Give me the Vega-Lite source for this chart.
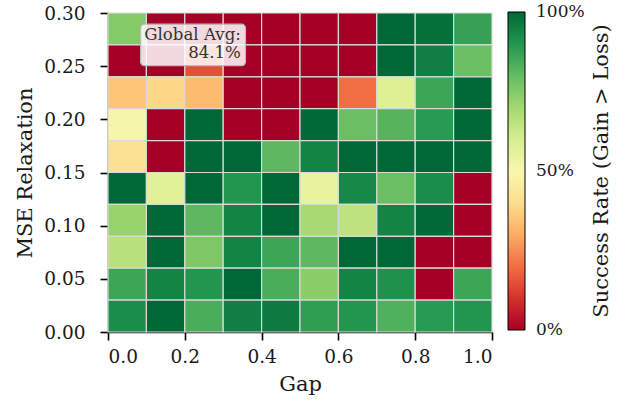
{
  "$schema": "https://vega.github.io/schema/vega-lite/v6.json",
  "width": 384,
  "height": 319,
  "autosize": {"type": "none"},
  "padding": {"left": 108, "top": 13, "right": 137, "bottom": 71},
  "background": "white",
  "config": {
    "view": {"stroke": null},
    "font": "DejaVu Serif",
    "axis": {
      "labelFont": "DejaVu Serif",
      "titleFont": "DejaVu Serif",
      "labelFontSize": 18.5,
      "titleFontSize": 21,
      "titleFontWeight": "normal",
      "labelColor": "#1a1a1a",
      "titleColor": "#1a1a1a",
      "domainColor": "#000000",
      "domainWidth": 1.6,
      "tickColor": "#000000",
      "tickWidth": 1.6,
      "tickSize": 8,
      "grid": false
    },
    "legend": {
      "labelFont": "DejaVu Serif",
      "titleFont": "DejaVu Serif"
    }
  },
  "datasets": {
    "cells": [
      {"g0": 0.0, "g1": 0.1, "m0": 0.27, "m1": 0.30, "rate": 0.75},
      {"g0": 0.1, "g1": 0.2, "m0": 0.27, "m1": 0.30, "rate": 0.0},
      {"g0": 0.2, "g1": 0.3, "m0": 0.27, "m1": 0.30, "rate": 0.0},
      {"g0": 0.3, "g1": 0.4, "m0": 0.27, "m1": 0.30, "rate": 0.0},
      {"g0": 0.4, "g1": 0.5, "m0": 0.27, "m1": 0.30, "rate": 0.0},
      {"g0": 0.5, "g1": 0.6, "m0": 0.27, "m1": 0.30, "rate": 0.0},
      {"g0": 0.6, "g1": 0.7, "m0": 0.27, "m1": 0.30, "rate": 0.0},
      {"g0": 0.7, "g1": 0.8, "m0": 0.27, "m1": 0.30, "rate": 1.0},
      {"g0": 0.8, "g1": 0.9, "m0": 0.27, "m1": 0.30, "rate": 0.98},
      {"g0": 0.9, "g1": 1.0, "m0": 0.27, "m1": 0.30, "rate": 0.87},

      {"g0": 0.0, "g1": 0.1, "m0": 0.24, "m1": 0.27, "rate": 0.0},
      {"g0": 0.1, "g1": 0.2, "m0": 0.24, "m1": 0.27, "rate": 0.0},
      {"g0": 0.2, "g1": 0.3, "m0": 0.24, "m1": 0.27, "rate": 0.15},
      {"g0": 0.3, "g1": 0.4, "m0": 0.24, "m1": 0.27, "rate": 0.0},
      {"g0": 0.4, "g1": 0.5, "m0": 0.24, "m1": 0.27, "rate": 0.0},
      {"g0": 0.5, "g1": 0.6, "m0": 0.24, "m1": 0.27, "rate": 0.0},
      {"g0": 0.6, "g1": 0.7, "m0": 0.24, "m1": 0.27, "rate": 0.0},
      {"g0": 0.7, "g1": 0.8, "m0": 0.24, "m1": 0.27, "rate": 1.0},
      {"g0": 0.8, "g1": 0.9, "m0": 0.24, "m1": 0.27, "rate": 0.95},
      {"g0": 0.9, "g1": 1.0, "m0": 0.24, "m1": 0.27, "rate": 0.79},

      {"g0": 0.0, "g1": 0.1, "m0": 0.21, "m1": 0.24, "rate": 0.35},
      {"g0": 0.1, "g1": 0.2, "m0": 0.21, "m1": 0.24, "rate": 0.39},
      {"g0": 0.2, "g1": 0.3, "m0": 0.21, "m1": 0.24, "rate": 0.33},
      {"g0": 0.3, "g1": 0.4, "m0": 0.21, "m1": 0.24, "rate": 0.0},
      {"g0": 0.4, "g1": 0.5, "m0": 0.21, "m1": 0.24, "rate": 0.0},
      {"g0": 0.5, "g1": 0.6, "m0": 0.21, "m1": 0.24, "rate": 0.0},
      {"g0": 0.6, "g1": 0.7, "m0": 0.21, "m1": 0.24, "rate": 0.2},
      {"g0": 0.7, "g1": 0.8, "m0": 0.21, "m1": 0.24, "rate": 0.58},
      {"g0": 0.8, "g1": 0.9, "m0": 0.21, "m1": 0.24, "rate": 0.86},
      {"g0": 0.9, "g1": 1.0, "m0": 0.21, "m1": 0.24, "rate": 1.0},

      {"g0": 0.0, "g1": 0.1, "m0": 0.18, "m1": 0.21, "rate": 0.51},
      {"g0": 0.1, "g1": 0.2, "m0": 0.18, "m1": 0.21, "rate": 0.0},
      {"g0": 0.2, "g1": 0.3, "m0": 0.18, "m1": 0.21, "rate": 1.0},
      {"g0": 0.3, "g1": 0.4, "m0": 0.18, "m1": 0.21, "rate": 0.0},
      {"g0": 0.4, "g1": 0.5, "m0": 0.18, "m1": 0.21, "rate": 0.0},
      {"g0": 0.5, "g1": 0.6, "m0": 0.18, "m1": 0.21, "rate": 1.0},
      {"g0": 0.6, "g1": 0.7, "m0": 0.18, "m1": 0.21, "rate": 0.79},
      {"g0": 0.7, "g1": 0.8, "m0": 0.18, "m1": 0.21, "rate": 0.82},
      {"g0": 0.8, "g1": 0.9, "m0": 0.18, "m1": 0.21, "rate": 0.89},
      {"g0": 0.9, "g1": 1.0, "m0": 0.18, "m1": 0.21, "rate": 1.0},

      {"g0": 0.0, "g1": 0.1, "m0": 0.15, "m1": 0.18, "rate": 0.42},
      {"g0": 0.1, "g1": 0.2, "m0": 0.15, "m1": 0.18, "rate": 0.0},
      {"g0": 0.2, "g1": 0.3, "m0": 0.15, "m1": 0.18, "rate": 1.0},
      {"g0": 0.3, "g1": 0.4, "m0": 0.15, "m1": 0.18, "rate": 1.0},
      {"g0": 0.4, "g1": 0.5, "m0": 0.15, "m1": 0.18, "rate": 0.81},
      {"g0": 0.5, "g1": 0.6, "m0": 0.15, "m1": 0.18, "rate": 0.94},
      {"g0": 0.6, "g1": 0.7, "m0": 0.15, "m1": 0.18, "rate": 1.0},
      {"g0": 0.7, "g1": 0.8, "m0": 0.15, "m1": 0.18, "rate": 1.0},
      {"g0": 0.8, "g1": 0.9, "m0": 0.15, "m1": 0.18, "rate": 1.0},
      {"g0": 0.9, "g1": 1.0, "m0": 0.15, "m1": 0.18, "rate": 1.0},

      {"g0": 0.0, "g1": 0.1, "m0": 0.12, "m1": 0.15, "rate": 1.0},
      {"g0": 0.1, "g1": 0.2, "m0": 0.12, "m1": 0.15, "rate": 0.57},
      {"g0": 0.2, "g1": 0.3, "m0": 0.12, "m1": 0.15, "rate": 1.0},
      {"g0": 0.3, "g1": 0.4, "m0": 0.12, "m1": 0.15, "rate": 0.9},
      {"g0": 0.4, "g1": 0.5, "m0": 0.12, "m1": 0.15, "rate": 1.0},
      {"g0": 0.5, "g1": 0.6, "m0": 0.12, "m1": 0.15, "rate": 0.55},
      {"g0": 0.6, "g1": 0.7, "m0": 0.12, "m1": 0.15, "rate": 0.93},
      {"g0": 0.7, "g1": 0.8, "m0": 0.12, "m1": 0.15, "rate": 0.79},
      {"g0": 0.8, "g1": 0.9, "m0": 0.12, "m1": 0.15, "rate": 0.92},
      {"g0": 0.9, "g1": 1.0, "m0": 0.12, "m1": 0.15, "rate": 0.0},

      {"g0": 0.0, "g1": 0.1, "m0": 0.09, "m1": 0.12, "rate": 0.72},
      {"g0": 0.1, "g1": 0.2, "m0": 0.09, "m1": 0.12, "rate": 1.0},
      {"g0": 0.2, "g1": 0.3, "m0": 0.09, "m1": 0.12, "rate": 0.81},
      {"g0": 0.3, "g1": 0.4, "m0": 0.09, "m1": 0.12, "rate": 0.94},
      {"g0": 0.4, "g1": 0.5, "m0": 0.09, "m1": 0.12, "rate": 1.0},
      {"g0": 0.5, "g1": 0.6, "m0": 0.09, "m1": 0.12, "rate": 0.69},
      {"g0": 0.6, "g1": 0.7, "m0": 0.09, "m1": 0.12, "rate": 0.65},
      {"g0": 0.7, "g1": 0.8, "m0": 0.09, "m1": 0.12, "rate": 0.94},
      {"g0": 0.8, "g1": 0.9, "m0": 0.09, "m1": 0.12, "rate": 1.0},
      {"g0": 0.9, "g1": 1.0, "m0": 0.09, "m1": 0.12, "rate": 0.0},

      {"g0": 0.0, "g1": 0.1, "m0": 0.06, "m1": 0.09, "rate": 0.66},
      {"g0": 0.1, "g1": 0.2, "m0": 0.06, "m1": 0.09, "rate": 1.0},
      {"g0": 0.2, "g1": 0.3, "m0": 0.06, "m1": 0.09, "rate": 0.76},
      {"g0": 0.3, "g1": 0.4, "m0": 0.06, "m1": 0.09, "rate": 0.94},
      {"g0": 0.4, "g1": 0.5, "m0": 0.06, "m1": 0.09, "rate": 0.86},
      {"g0": 0.5, "g1": 0.6, "m0": 0.06, "m1": 0.09, "rate": 0.81},
      {"g0": 0.6, "g1": 0.7, "m0": 0.06, "m1": 0.09, "rate": 1.0},
      {"g0": 0.7, "g1": 0.8, "m0": 0.06, "m1": 0.09, "rate": 1.0},
      {"g0": 0.8, "g1": 0.9, "m0": 0.06, "m1": 0.09, "rate": 0.0},
      {"g0": 0.9, "g1": 1.0, "m0": 0.06, "m1": 0.09, "rate": 0.0},

      {"g0": 0.0, "g1": 0.1, "m0": 0.03, "m1": 0.06, "rate": 0.86},
      {"g0": 0.1, "g1": 0.2, "m0": 0.03, "m1": 0.06, "rate": 0.94},
      {"g0": 0.2, "g1": 0.3, "m0": 0.03, "m1": 0.06, "rate": 0.9},
      {"g0": 0.3, "g1": 0.4, "m0": 0.03, "m1": 0.06, "rate": 1.0},
      {"g0": 0.4, "g1": 0.5, "m0": 0.03, "m1": 0.06, "rate": 0.84},
      {"g0": 0.5, "g1": 0.6, "m0": 0.03, "m1": 0.06, "rate": 0.74},
      {"g0": 0.6, "g1": 0.7, "m0": 0.03, "m1": 0.06, "rate": 0.94},
      {"g0": 0.7, "g1": 0.8, "m0": 0.03, "m1": 0.06, "rate": 0.91},
      {"g0": 0.8, "g1": 0.9, "m0": 0.03, "m1": 0.06, "rate": 0.0},
      {"g0": 0.9, "g1": 1.0, "m0": 0.03, "m1": 0.06, "rate": 0.86},

      {"g0": 0.0, "g1": 0.1, "m0": 0.0, "m1": 0.03, "rate": 0.92},
      {"g0": 0.1, "g1": 0.2, "m0": 0.0, "m1": 0.03, "rate": 1.0},
      {"g0": 0.2, "g1": 0.3, "m0": 0.0, "m1": 0.03, "rate": 0.84},
      {"g0": 0.3, "g1": 0.4, "m0": 0.0, "m1": 0.03, "rate": 0.95},
      {"g0": 0.4, "g1": 0.5, "m0": 0.0, "m1": 0.03, "rate": 0.96},
      {"g0": 0.5, "g1": 0.6, "m0": 0.0, "m1": 0.03, "rate": 0.88},
      {"g0": 0.6, "g1": 0.7, "m0": 0.0, "m1": 0.03, "rate": 0.9},
      {"g0": 0.7, "g1": 0.8, "m0": 0.0, "m1": 0.03, "rate": 0.83},
      {"g0": 0.8, "g1": 0.9, "m0": 0.0, "m1": 0.03, "rate": 0.89},
      {"g0": 0.9, "g1": 1.0, "m0": 0.0, "m1": 0.03, "rate": 0.9}
    ],
    "note": [
      {"g0": 0.085, "g1": 0.358, "m0": 0.2505, "m1": 0.2895, "gx": 0.346, "my": 0.2865, "label": ["Global Avg:", "84.1%"]}
    ]
  },
  "layer": [
    {
      "data": {"name": "cells"},
      "mark": {"type": "rect", "stroke": "#d9d9d9", "strokeWidth": 1.2},
      "encoding": {
        "x": {
          "field": "g0", "type": "quantitative",
          "scale": {"domain": [0, 1], "nice": false, "zero": false},
          "axis": {"title": "Gap", "values": [0, 0.2, 0.4, 0.6, 0.8, 1.0], "format": ".1f", "labelPadding": 7, "titlePadding": 8}
        },
        "x2": {"field": "g1"},
        "y": {
          "field": "m0", "type": "quantitative",
          "scale": {"domain": [0, 0.3], "nice": false, "zero": false},
          "axis": {"title": "MSE Relaxation", "values": [0, 0.05, 0.1, 0.15, 0.2, 0.25, 0.3], "format": ".2f", "labelPadding": 15, "titlePadding": 8}
        },
        "y2": {"field": "m1"},
        "color": {
          "field": "rate", "type": "quantitative",
          "scale": {"scheme": "redyellowgreen", "domain": [0, 1]},
          "legend": {
            "title": "Success Rate (Gain > Loss)",
            "orient": "none",
            "legendX": 400,
            "legendY": -1,
            "direction": "vertical",
            "gradientLength": 318,
            "gradientThickness": 17,
            "gradientStrokeColor": "#000000",
            "gradientStrokeWidth": 1,
            "values": [0, 0.5, 1],
            "format": ".0%",
            "labelFontSize": 17,
            "labelColor": "#1a1a1a",
            "labelOffset": 11,
            "titleFontSize": 21,
            "titleFontWeight": "normal",
            "titleColor": "#1a1a1a",
            "titleLimit": 500,
            "titleOrient": "right",
            "titleAnchor": "middle",
            "titleAlign": "center",
            "titleBaseline": "top",
            "titlePadding": 6,
            "encode": {
              "title": {"update": {"angle": {"value": -90}}},
              "labels": {"update": {"baseline": {"value": "middle"}}}
            }
          }
        }
      }
    },
    {
      "data": {"name": "note"},
      "mark": {"type": "rect", "fill": "#ffffff", "fillOpacity": 0.85, "stroke": "#bbbbbb", "strokeWidth": 1.2, "cornerRadius": 4},
      "encoding": {
        "x": {"field": "g0", "type": "quantitative"},
        "x2": {"field": "g1"},
        "y": {"field": "m0", "type": "quantitative"},
        "y2": {"field": "m1"}
      }
    },
    {
      "data": {"name": "note"},
      "mark": {"type": "text", "align": "right", "baseline": "top", "font": "DejaVu Serif", "fontSize": 16.6, "color": "#333333", "lineHeight": 18},
      "encoding": {
        "x": {"field": "gx", "type": "quantitative"},
        "y": {"field": "my", "type": "quantitative"},
        "text": {"field": "label"}
      }
    }
  ]
}
